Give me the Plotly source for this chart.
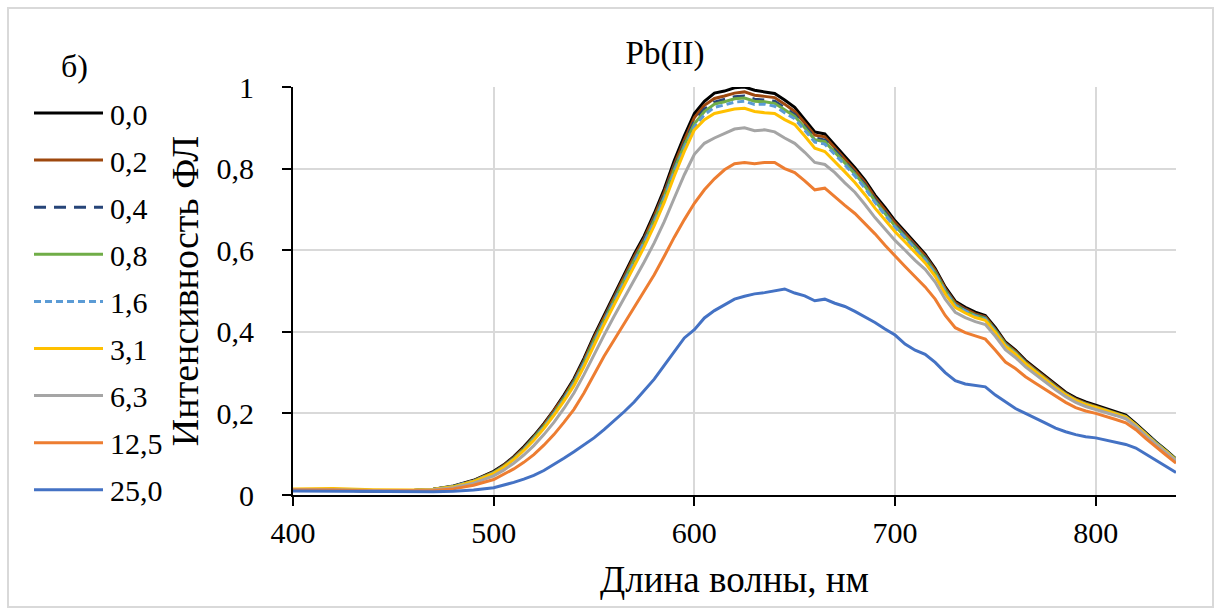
import plotly.graph_objects as go

# wavelength grid, nm
wl = [400, 420, 440, 460, 470, 480, 490] + list(range(500, 845, 5))

labels = ["0,0", "0,2", "0,4", "0,8", "1,6", "3,1", "6,3", "12,5", "25,0"]

s00 = [0.012, 0.012, 0.010, 0.011, 0.014, 0.022, 0.036,
       0.058, 0.074, 0.094, 0.118, 0.145, 0.175, 0.208, 0.245, 0.285, 0.335, 0.39, 0.44, 0.49, 0.538,
       0.59, 0.635, 0.69, 0.75, 0.82, 0.88, 0.935, 0.965, 0.985, 0.99, 0.998, 1.0, 0.992, 0.988, 0.984,
       0.968, 0.95, 0.92, 0.89, 0.885, 0.858, 0.83, 0.802, 0.772, 0.735, 0.705, 0.672, 0.645, 0.618,
       0.59, 0.555, 0.51, 0.475, 0.46, 0.448, 0.44, 0.41, 0.375, 0.355, 0.33, 0.31, 0.29, 0.27, 0.252,
       0.238, 0.228, 0.22, 0.212, 0.204, 0.196, 0.175, 0.152, 0.13, 0.11, 0.088]
s02 = [0.012, 0.012, 0.010, 0.011, 0.014, 0.021, 0.035,
       0.056, 0.072, 0.092, 0.115, 0.142, 0.172, 0.205, 0.241, 0.281, 0.330, 0.385, 0.435, 0.485, 0.533,
       0.584, 0.629, 0.683, 0.742, 0.81, 0.87, 0.925, 0.955, 0.972, 0.978, 0.985, 0.988, 0.98, 0.977, 0.974,
       0.958, 0.94, 0.912, 0.882, 0.878, 0.851, 0.823, 0.796, 0.766, 0.729, 0.699, 0.667, 0.64, 0.613,
       0.586, 0.551, 0.506, 0.471, 0.456, 0.444, 0.437, 0.406, 0.372, 0.352, 0.327, 0.307, 0.287, 0.267, 0.249,
       0.235, 0.225, 0.217, 0.209, 0.201, 0.193, 0.172, 0.149, 0.127, 0.107, 0.086]
s04 = [0.012, 0.012, 0.010, 0.011, 0.014, 0.021, 0.034,
       0.055, 0.071, 0.09, 0.113, 0.14, 0.17, 0.202, 0.238, 0.278, 0.327, 0.381, 0.431, 0.48, 0.528,
       0.579, 0.624, 0.677, 0.736, 0.803, 0.862, 0.916, 0.946, 0.963, 0.969, 0.976, 0.978, 0.97, 0.968, 0.965,
       0.949, 0.932, 0.904, 0.875, 0.87, 0.845, 0.817, 0.79, 0.76, 0.724, 0.694, 0.662, 0.636, 0.609,
       0.582, 0.547, 0.503, 0.468, 0.453, 0.441, 0.434, 0.404, 0.37, 0.35, 0.325, 0.305, 0.285, 0.266, 0.248,
       0.234, 0.224, 0.216, 0.208, 0.2, 0.192, 0.171, 0.149, 0.127, 0.107, 0.086]
s08 = [0.013, 0.013, 0.011, 0.011, 0.014, 0.021, 0.034,
       0.055, 0.07, 0.089, 0.112, 0.139, 0.168, 0.2, 0.236, 0.276, 0.324, 0.378, 0.428, 0.477, 0.525,
       0.575, 0.62, 0.673, 0.731, 0.798, 0.857, 0.91, 0.94, 0.958, 0.964, 0.971, 0.973, 0.965, 0.964, 0.96,
       0.944, 0.928, 0.9, 0.871, 0.866, 0.841, 0.814, 0.787, 0.757, 0.721, 0.691, 0.659, 0.633, 0.606,
       0.579, 0.545, 0.501, 0.466, 0.451, 0.44, 0.433, 0.403, 0.369, 0.349, 0.324, 0.304, 0.284, 0.265, 0.247,
       0.233, 0.223, 0.216, 0.208, 0.2, 0.192, 0.172, 0.149, 0.128, 0.108, 0.087]
s16 = [0.013, 0.013, 0.011, 0.011, 0.014, 0.021, 0.034,
       0.054, 0.069, 0.088, 0.111, 0.137, 0.166, 0.198, 0.234, 0.273, 0.321, 0.375, 0.425, 0.473, 0.521,
       0.571, 0.616, 0.668, 0.726, 0.792, 0.85, 0.902, 0.932, 0.95, 0.956, 0.963, 0.965, 0.957, 0.958, 0.953,
       0.937, 0.922, 0.894, 0.865, 0.86, 0.835, 0.809, 0.782, 0.752, 0.717, 0.687, 0.656, 0.63, 0.603,
       0.576, 0.542, 0.499, 0.464, 0.45, 0.438, 0.431, 0.401, 0.367, 0.347, 0.323, 0.303, 0.283, 0.264, 0.246,
       0.232, 0.222, 0.215, 0.207, 0.199, 0.191, 0.171, 0.148, 0.127, 0.107, 0.086]
s31 = [0.015, 0.016, 0.013, 0.012, 0.014, 0.020, 0.033,
       0.053, 0.068, 0.087, 0.109, 0.134, 0.163, 0.195, 0.23, 0.268, 0.315, 0.368, 0.418, 0.466, 0.513,
       0.562, 0.608, 0.66, 0.717, 0.782, 0.842, 0.895, 0.92, 0.935, 0.94, 0.946, 0.948, 0.94, 0.937, 0.935,
       0.92, 0.908, 0.88, 0.85, 0.842, 0.818, 0.792, 0.766, 0.736, 0.703, 0.674, 0.645, 0.62, 0.595,
       0.569, 0.536, 0.493, 0.46, 0.446, 0.435, 0.428, 0.398, 0.365, 0.345, 0.322, 0.302, 0.282, 0.263, 0.246,
       0.232, 0.222, 0.215, 0.207, 0.199, 0.191, 0.171, 0.148, 0.126, 0.107, 0.085]
s63 = [0.013, 0.013, 0.011, 0.011, 0.013, 0.018, 0.029,
       0.047, 0.061, 0.078, 0.098, 0.121, 0.148, 0.178, 0.212, 0.25, 0.295, 0.345, 0.392, 0.438, 0.482,
       0.528, 0.571, 0.618, 0.67, 0.728, 0.785, 0.835, 0.862, 0.875, 0.887, 0.897, 0.9, 0.893, 0.895, 0.89,
       0.875, 0.862, 0.84, 0.815, 0.81, 0.79, 0.765, 0.742, 0.712, 0.68, 0.652, 0.624, 0.6, 0.575,
       0.553, 0.522, 0.48, 0.448, 0.435, 0.425, 0.418, 0.389, 0.356, 0.337, 0.314, 0.295, 0.276, 0.258, 0.241,
       0.227, 0.217, 0.21, 0.203, 0.195, 0.187, 0.168, 0.145, 0.124, 0.105, 0.084]
s125 = [0.012, 0.012, 0.010, 0.010, 0.011, 0.015, 0.024,
        0.038, 0.05, 0.064, 0.08, 0.099, 0.122, 0.148, 0.178, 0.21, 0.25, 0.296, 0.34, 0.38, 0.42,
        0.46, 0.498, 0.54, 0.585, 0.632, 0.675, 0.715, 0.748, 0.775, 0.797, 0.812, 0.815, 0.812, 0.815, 0.815,
        0.8, 0.79, 0.77, 0.748, 0.752, 0.73, 0.71, 0.69, 0.665, 0.64, 0.612, 0.585, 0.56, 0.535,
        0.51, 0.48, 0.44, 0.41, 0.398, 0.39, 0.382, 0.355, 0.326, 0.31, 0.29, 0.274, 0.258, 0.242, 0.227,
        0.214, 0.206, 0.2, 0.193, 0.185, 0.177, 0.16, 0.138, 0.117, 0.098, 0.078]
s250 = [0.010, 0.009, 0.008, 0.008, 0.008, 0.009, 0.012,
        0.018, 0.024, 0.031, 0.039, 0.048, 0.06, 0.074, 0.09, 0.106, 0.122, 0.14, 0.16, 0.181, 0.204,
        0.228, 0.255, 0.284, 0.318, 0.352, 0.385, 0.405, 0.434, 0.452, 0.466, 0.48, 0.487, 0.493, 0.496, 0.5,
        0.505, 0.495, 0.488, 0.476, 0.48, 0.47, 0.462, 0.45, 0.437, 0.423, 0.407, 0.392, 0.37, 0.355,
        0.345, 0.325, 0.3, 0.28, 0.272, 0.268, 0.265, 0.245, 0.228, 0.212, 0.2, 0.189, 0.176, 0.164, 0.155,
        0.148, 0.143, 0.14, 0.135, 0.13, 0.124, 0.115, 0.1, 0.086, 0.07, 0.055]

series = [s00, s02, s04, s08, s16, s31, s63, s125, s250]
colors = ["#000000", "#9e480e", "#264478", "#70ad47", "#5b9bd5", "#ffc000", "#a5a5a5", "#ed7d31", "#4472c4"]
dashes = ["solid", "solid", "12px,8px", "solid", "7px,4px", "solid", "solid", "solid", "solid"]

FONT = "Liberation Serif, Times New Roman, serif"

fig = go.Figure()
for lab, ys, c, d in zip(labels, series, colors, dashes):
    fig.add_trace(go.Scatter(x=wl, y=ys, mode="lines", name=lab,
                             line=dict(color=c, width=3, dash=d), showlegend=False))

# plot area in pixels: x 293..1176, y 87..495
L, R, T, B = 293, 1176, 87, 495
W, H = 1219, 612
pw, ph = R - L, B - T

def px_x(p):
    return (p - L) / pw

def px_y(p):
    return (B - p) / ph

shapes = []
annotations = []
# outer chart border
shapes.append(dict(type="rect", xref="paper", yref="paper",
                   x0=px_x(8), x1=px_x(1213), y0=px_y(607), y1=px_y(8),
                   line=dict(color="#d9d9d9", width=2), fillcolor="rgba(0,0,0,0)", layer="below"))
# manual legend
leg_y0, leg_dy = 113, 47.1
for i, (lab, c, d) in enumerate(zip(labels, colors, dashes)):
    yy = leg_y0 + i * leg_dy
    shapes.append(dict(type="line", xref="paper", yref="paper",
                       x0=px_x(34), x1=px_x(103), y0=px_y(yy), y1=px_y(yy),
                       line=dict(color=c, width=3, dash=d)))
    annotations.append(dict(xref="paper", yref="paper", x=px_x(108), y=px_y(yy + 1),
                            text=lab, showarrow=False, xanchor="left", yanchor="middle",
                            font=dict(family=FONT, size=30, color="#000000")))
annotations.append(dict(xref="paper", yref="paper", x=px_x(59), y=px_y(66),
                        text="б)", showarrow=False, xanchor="left", yanchor="middle",
                        font=dict(family=FONT, size=32, color="#000000")))

fig.update_layout(
    width=W, height=H,
    margin=dict(l=L, r=W - R, t=T, b=H - B, pad=0),
    paper_bgcolor="white", plot_bgcolor="white",
    separators=", ",
    font=dict(family=FONT, size=30, color="#000000"),
    title=dict(text="Pb(II)", x=665 / W, xanchor="center", y=1 - 52 / H, yanchor="middle",
               xref="container", yref="container",
               font=dict(family=FONT, size=33, color="#000000")),
    shapes=shapes, annotations=annotations,
    xaxis=dict(range=[400, 840], dtick=100, tick0=400,
               showline=True, linecolor="#000000", linewidth=2,
               ticks="outside", ticklen=9, tickwidth=2, tickcolor="#000000",
               showgrid=True, gridcolor="#d9d9d9", gridwidth=2, zeroline=False,
               ticklabelstandoff=1,
               tickfont=dict(family=FONT, size=30, color="#000000"),
               title=dict(text="Длина волны, нм", standoff=18,
                          font=dict(family=FONT, size=37, color="#000000"))),
    yaxis=dict(range=[0, 1], dtick=0.2, tick0=0,
               showline=True, linecolor="#000000", linewidth=2,
               ticks="outside", ticklen=9, tickwidth=2, tickcolor="#000000",
               showgrid=True, gridcolor="#d9d9d9", gridwidth=2, zeroline=False,
               ticklabelstandoff=22,
               tickfont=dict(family=FONT, size=30, color="#000000"),
               title=dict(text="Интенсивность ФЛ", standoff=6,
                          font=dict(family=FONT, size=38, color="#000000"))),
)

fig.write_html("out.html", post_script="document.body.style.margin='0';",
               config={"displayModeBar": False})
